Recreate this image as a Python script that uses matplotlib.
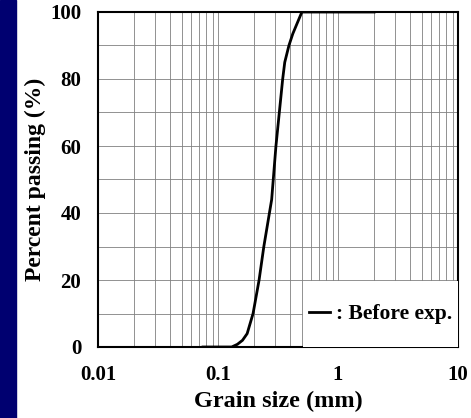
import numpy as np
import matplotlib.pyplot as plt
from matplotlib.patches import Rectangle
from matplotlib.ticker import LogLocator, FixedLocator, NullFormatter

# grain size distribution before experiment
grain_size = [0.075, 0.13, 0.145, 0.16, 0.175, 0.196, 0.22, 0.241, 0.28, 0.304, 0.346, 0.36, 0.39, 0.42, 0.5, 1.0, 2.0]
passing = [0, 0, 0.8, 2, 4, 10, 20, 30, 44, 60, 80, 85, 90, 93.5, 100, 100, 100]

x_ticks = [0.01, 0.1, 1, 10]
x_labels = ['0.01', '0.1', '1', '10']
y_ticks = [0, 20, 40, 60, 80, 100]

plt.rcParams['font.family'] = ['Liberation Serif', 'DejaVu Serif']
plt.rcParams['font.weight'] = 'bold'

fig = plt.figure(figsize=(4.71, 4.18), dpi=100)
fig.patches.append(Rectangle((0, 0), 16 / 471, 1, transform=fig.transFigure,
                             color='#000070', zorder=0))

ax = fig.add_axes([98 / 471, 71 / 418, 360 / 471, 335 / 418])
ax.plot(grain_size, passing, color='black', lw=2, label=': Before exp.', zorder=3)

ax.set_xscale('log')
ax.set_xlim(0.01, 10)
ax.set_ylim(0, 100)
ax.xaxis.set_major_locator(FixedLocator(x_ticks))
ax.set_xticklabels(x_labels)
ax.xaxis.set_minor_locator(LogLocator(base=10, subs=np.arange(2, 10)))
ax.xaxis.set_minor_formatter(NullFormatter())
ax.set_yticks(y_ticks)
ax.yaxis.set_minor_locator(FixedLocator(np.arange(10, 100, 20)))

ax.grid(True, which='both', color='0.5', lw=0.6)
ax.tick_params(which='both', length=0, labelsize=15)
ax.tick_params(axis='x', pad=13)
ax.tick_params(axis='y', pad=12)
for s in ax.spines.values():
    s.set_linewidth(1.5)

ax.set_xlabel('Grain size (mm)', fontsize=17.5, fontweight='bold', labelpad=4)
ax.set_ylabel('Percent passing (%)', fontsize=17, fontweight='bold', labelpad=3)

# white backing behind the legend, flush with the lower-right corner
ax.add_patch(Rectangle((0.569, 0), 0.431, 0.197, transform=ax.transAxes,
                       facecolor='white', edgecolor='none', zorder=4))
leg = ax.legend(loc='center', bbox_to_anchor=(0.569, 0, 0.431, 0.197),
                handlelength=1.0, handletextpad=0.25, borderpad=0,
                fontsize=15.5, frameon=False)
leg.set_zorder(5)

fig.savefig('out.png', dpi=100)
